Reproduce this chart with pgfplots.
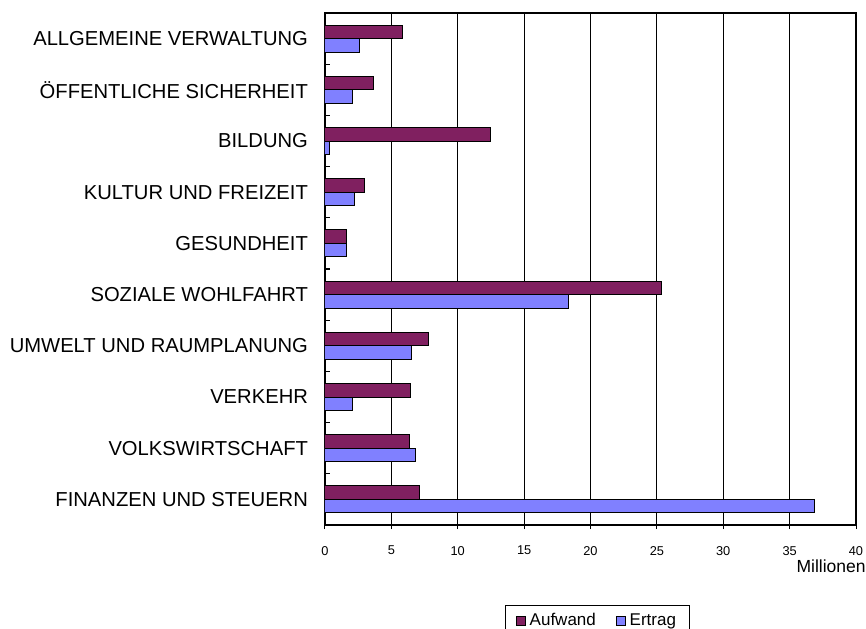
\documentclass[border=0pt]{standalone}
\usepackage{fontspec}
\setmainfont{Liberation Sans}
\usepackage{pgfplots}
\pgfplotsset{compat=1.18}
\definecolor{aufwand}{RGB}{128,32,96}
\definecolor{ertrag}{RGB}{128,128,255}

\begin{document}
\begin{tikzpicture}
\useasboundingbox (-162.5pt,-51.5pt) rectangle (270.5pt,262.5pt);
\clip (-162.5pt,-51.5pt) rectangle (270.5pt,262.5pt);
\begin{axis}[
    at={(0,0)}, anchor=south west,
    scale only axis,
    width=265.5pt, height=256pt,
    xbar, bar width=6.75pt,
    xmin=0, xmax=40, ymin=-0.5, ymax=9.5,
    xtick={0,5,...,40},
    xmajorgrids,
    major grid style={black, line width=0.5pt},
    axis line style={black, line width=0.75pt},
    xtick pos=bottom, xtick align=outside,
    major tick length=2pt,
    major x tick style={black, line width=0.5pt},
    ytick={0,...,9},
    yticklabels={FINANZEN UND STEUERN, VOLKSWIRTSCHAFT, VERKEHR, UMWELT UND RAUMPLANUNG, SOZIALE WOHLFAHRT, GESUNDHEIT, KULTUR UND FREIZEIT, BILDUNG, ÖFFENTLICHE SICHERHEIT, ALLGEMEINE VERWALTUNG},
    minor ytick={-0.5,0.5,...,9.5},
    ytick pos=left, ytick align=inside,
    major y tick style={draw=none},
    minor y tick style={black, line width=0.6pt},
    minor tick length=2.5pt,
    /pgf/number format/assume math mode=true,
    xticklabel style={font=\fontsize{6.4}{7.5}\selectfont, yshift=-5pt},
    yticklabel style={font=\fontsize{10.1}{12}\selectfont, xshift=-5pt},
    xlabel={Millionen},
    xlabel style={at={(rel axis cs:1,0)}, anchor=north east, inner sep=0pt,
        xshift=5pt, yshift=-17pt, font=\fontsize{8.75}{10}\selectfont},
    legend style={at={(0.514,-0.156)}, anchor=north, legend columns=2,
        draw=black, line width=0.5pt, inner xsep=5pt,
        font=\fontsize{8.5}{10}\selectfont,
        /tikz/every even column/.append style={column sep=8pt}},
    legend image code/.code={\draw[#1] (0pt,-2.2pt) rectangle (4.4pt,2.2pt);},
]
\addplot[fill=aufwand, draw=black, line width=0.5pt, bar shift=3.375pt] coordinates {
    (7.13,0) (6.35,1) (6.45,2) (7.78,3) (25.35,4) (1.63,5) (2.96,6) (12.48,7) (3.69,8) (5.85,9)
};
\addplot[fill=ertrag, draw=black, line width=0.5pt, bar shift=-3.375pt] coordinates {
    (36.87,0) (6.85,1) (2.06,2) (6.53,3) (18.32,4) (1.63,5) (2.24,6) (0.33,7) (2.06,8) (2.58,9)
};
\legend{Aufwand, Ertrag}
\end{axis}
\end{tikzpicture}
\end{document}
